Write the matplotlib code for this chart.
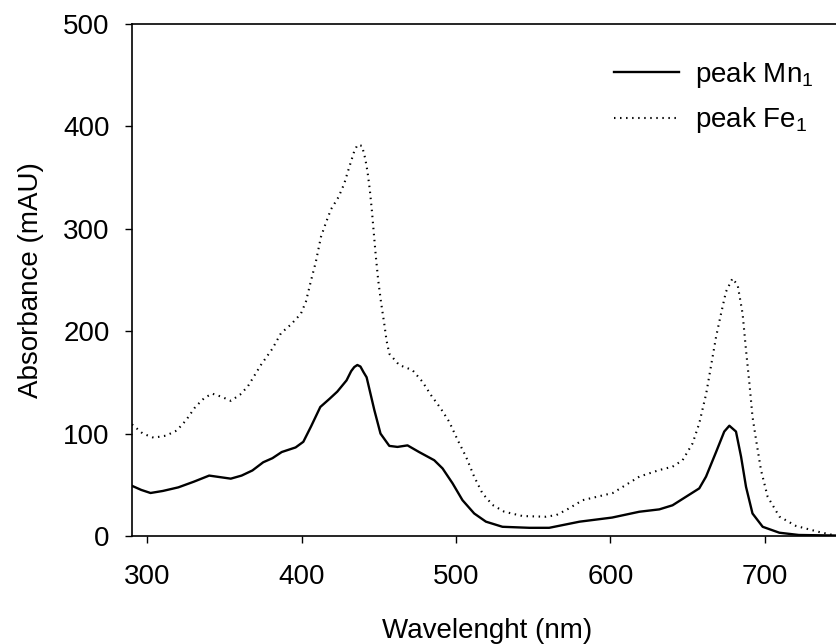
import matplotlib
matplotlib.use('Agg')
import matplotlib.pyplot as plt

plt.rcParams['font.family'] = ['Liberation Sans', 'DejaVu Sans']
plt.rcParams['mathtext.fontset'] = 'custom'
plt.rcParams['mathtext.rm'] = 'Liberation Sans'
plt.rcParams['mathtext.it'] = 'Liberation Sans'

# Datos
mn_x = [290, 296, 302, 310, 320, 330, 340, 347, 354, 361, 368, 375, 381, 387, 396,
        401, 406, 412, 418, 423, 429, 432, 434, 436, 438, 440, 442, 447, 451, 456.7,
        462, 468.5, 476, 485.8, 491.2, 497.7, 504.1, 511.7, 519.3, 530, 547.4, 560.3,
        580, 601, 618.7, 631.6, 640.2, 649, 657.5, 661.9, 668.4, 673.7, 677, 681.3,
        684.6, 687.8, 692, 698.6, 709.4, 722, 744, 750]
mn_y = [49, 45, 42, 44, 47.5, 53, 59, 57.5, 56, 59, 64, 72, 76, 82, 86.5,
        92, 107, 126, 134, 141, 152, 161, 165, 167, 165.5, 160, 155, 123, 100, 88,
        87, 88.5, 82, 74, 66, 51.4, 35, 22, 14, 9, 8, 8,
        14, 18, 23.7, 26, 30, 38.4, 46.5, 58, 82, 102, 107.7, 102,
        77.4, 48, 22, 9, 3.2, 1, 0.5, 0.4]

fe_x = [290, 297, 304, 312, 319, 325, 331, 337, 342, 348, 354, 360, 365, 373.5, 381,
        386.5, 393, 399.4, 402.7, 405.9, 409.1, 412.4, 415.6, 418.9, 423.8, 427.5,
        430, 434, 436.1, 439, 441.1, 442.6, 444.1, 445.4, 446.5, 448, 449.5, 451.3,
        453.4, 454.9, 456.7, 463.1, 471.7, 478.2, 483.7, 490, 495.5, 501, 506.4,
        511.7, 517, 523.6, 531.2, 543, 558.2, 565, 572, 582, 601.5, 618.7, 631.6,
        640.2, 646.7, 653.2, 657.5, 662, 665, 668.4, 671.6, 674.8, 679, 682.4,
        685.6, 687.8, 690, 692, 694.3, 697.5, 701.8, 709.4, 720.2, 735, 744, 750]
fe_y = [109, 100, 96, 98, 103, 113, 126, 135, 139, 136, 132, 138, 146, 167, 183,
        198, 206.6, 217, 229, 249, 267.7, 292, 305.8, 319, 331, 344,
        356.6, 375.8, 382, 381, 368.7, 355.6, 337.7, 318, 298.7, 272.6, 250, 228.7,
        207.6, 191, 178, 167, 162, 150.6, 137.6, 124.6, 111.6, 93.7, 77.4,
        57.9, 41.7, 30.3, 23.7, 19.5, 18.8, 20.5, 26, 35, 42, 58, 64.4,
        67.7, 74, 90.5, 110, 139, 165, 194.5, 217, 238.5, 251.5, 245,
        217, 181.5, 149, 116.5, 94, 64.4, 38.4, 19, 9.8, 4, 1, 0.5]

x_ticks = [300, 400, 500, 600, 700]
y_ticks = [0, 100, 200, 300, 400, 500]

fig = plt.figure(figsize=(8.37, 6.44), dpi=100)
ax = fig.add_axes([0.1577, 0.1677, 0.8483, 0.795])

ax.plot(mn_x, mn_y, color='black', lw=1.7, solid_joinstyle='round',
        label='peak Mn$_1$')
ax.plot(fe_x, fe_y, color='black', lw=1.5, linestyle=(0, (0.7, 2.2)),
        dash_capstyle='butt', label='peak Fe$_1$')

ax.set_xlim(290, 750)
ax.set_ylim(0, 500)
ax.set_xticks(x_ticks)
ax.set_yticks(y_ticks)

for s in ax.spines.values():
    s.set_linewidth(1.2)

ax.tick_params(direction='out', length=5, width=1.0, labelsize=20)
ax.tick_params(axis='x', pad=15)
ax.tick_params(axis='y', pad=11)

ax.set_xlabel('Wavelenght (nm)', fontsize=20, labelpad=20)
ax.set_ylabel('Absorbance (mAU)', fontsize=20, labelpad=14)

ax.legend(loc='upper left', bbox_to_anchor=(614 / 837, 1 - 60 / 644),
          bbox_transform=fig.transFigure, frameon=False, fontsize=20,
          handlelength=2.33, handletextpad=0.58, borderpad=0,
          borderaxespad=0, labelspacing=0.55)

fig.savefig('out.png', dpi=100)
